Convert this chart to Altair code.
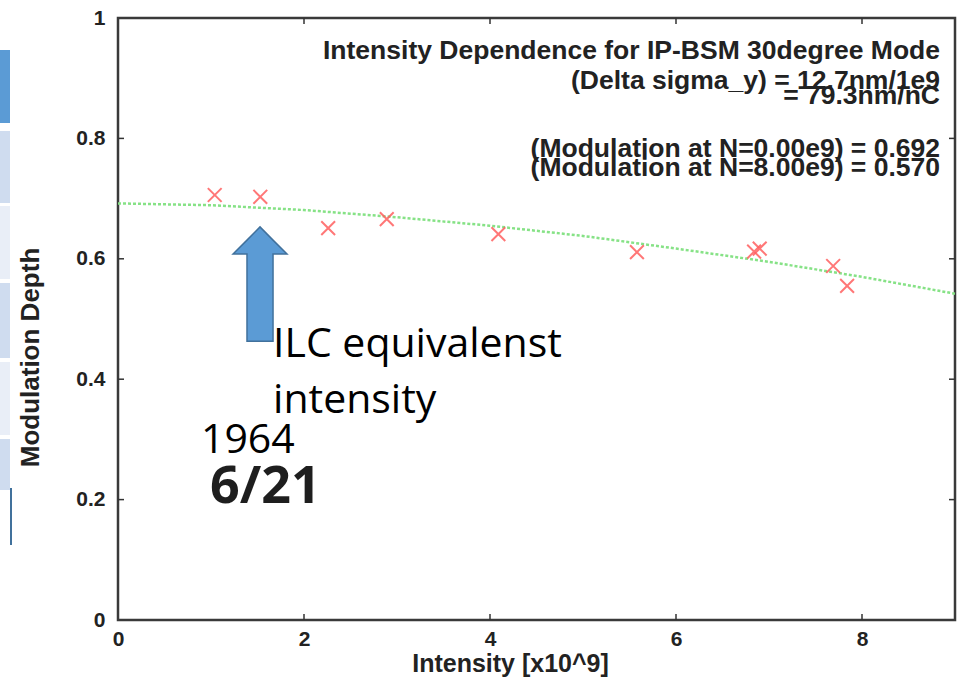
import altair as alt
import pandas as pd

# measured points (intensity x1e9, modulation depth)
pt_x = [1.04, 1.53, 2.26, 2.89, 4.09, 5.58, 6.84, 6.90, 7.69, 7.84]
pt_y = [0.706, 0.703, 0.651, 0.666, 0.641, 0.611, 0.612, 0.617, 0.588, 0.555]

# fitted curve
fit_x = [0, 1, 2, 3, 4, 5, 6, 7, 8, 9]
fit_y = [0.692, 0.689, 0.681, 0.669, 0.655, 0.638, 0.617, 0.595, 0.570, 0.542]

x_ticks = [2, 4, 6, 8]
y_ticks = [0.2, 0.4, 0.6, 0.8]

info_lines = [
    "Intensity Dependence for IP-BSM 30degree Mode",
    "(Delta sigma_y) = 12.7nm/1e9",
    "= 79.3nm/nC",
    "(Modulation at N=0.00e9) = 0.692",
    "(Modulation at N=8.00e9) = 0.570",
]

# arrow outline (data coordinates)
arrow_x = [1.237, 1.387, 1.387, 1.527, 1.667, 1.667, 1.817]
arrow_top = [0.608, 0.631, 0.631, 0.653, 0.631, 0.631, 0.608]
arrow_bot = [0.608, 0.608, 0.463, 0.463, 0.463, 0.608, 0.608]

W, H = 837, 602
HELV = "Liberation Sans"
CAL = "Open Sans"

xs = alt.Scale(domain=[0, 9], nice=False, zero=False)
ys = alt.Scale(domain=[0, 1], nice=False, zero=False)

pts = pd.DataFrame({"x": pt_x, "y": pt_y})
fit = pd.DataFrame({"x": fit_x, "y": fit_y})

fit_line = alt.Chart(fit).mark_line(
    color="#86e286", strokeWidth=2.5, strokeDash=[3, 2]
).encode(
    x=alt.X("x:Q", scale=xs, axis=alt.Axis(
        title="Intensity [x10^9]", values=[0, 2, 4, 6, 8], format="~g",
        ticks=False, domain=False, grid=False, labelPadding=8, labelFlush=False,
        labelFont=HELV, labelFontSize=21, labelFontWeight="bold", labelColor="#222",
        titleFont=HELV, titleFontSize=25, titleFontWeight="bold", titleColor="#222",
        titleX=392, titleY=43, titleAlign="center", titleBaseline="middle")),
    y=alt.Y("y:Q", scale=ys, axis=alt.Axis(
        title="Modulation Depth", values=[0, 0.2, 0.4, 0.6, 0.8, 1], format="~g",
        ticks=False, domain=False, grid=False, labelPadding=13, labelFlush=False,
        labelFont=HELV, labelFontSize=21, labelFontWeight="bold", labelColor="#222",
        titleFont=HELV, titleFontSize=26, titleFontWeight="bold", titleColor="#222",
        titleX=-88, titleY=339, titleAlign="center", titleBaseline="middle")),
)

markers = alt.Chart(pts).mark_point(
    shape="M-1,-1L1,1M1,-1L-1,1", filled=False, stroke="#ff6060",
    strokeWidth=2, size=190, opacity=0.85
).encode(x=alt.X("x:Q", scale=xs), y=alt.Y("y:Q", scale=ys))

tick_df_x = pd.DataFrame({"v": x_ticks})
tick_df_y = pd.DataFrame({"v": y_ticks})
tb = alt.Chart(tick_df_x).mark_rule(color="#333", strokeWidth=1.5).encode(
    x=alt.X("v:Q", scale=xs), y=alt.value(H), y2=alt.value(H - 6))
tt = alt.Chart(tick_df_x).mark_rule(color="#333", strokeWidth=1.5).encode(
    x=alt.X("v:Q", scale=xs), y=alt.value(0), y2=alt.value(6))
tl = alt.Chart(tick_df_y).mark_rule(color="#333", strokeWidth=1.5).encode(
    y=alt.Y("v:Q", scale=ys), x=alt.value(0), x2=alt.value(6))
tr = alt.Chart(tick_df_y).mark_rule(color="#333", strokeWidth=1.5).encode(
    y=alt.Y("v:Q", scale=ys), x=alt.value(W), x2=alt.value(W - 6))

arrow_df = pd.DataFrame({"x": arrow_x, "top": arrow_top, "bot": arrow_bot})
arrow = alt.Chart(arrow_df).mark_area(
    fill="#5b9bd5", stroke="#41719c", strokeWidth=1.5, interpolate="linear",
    orient="vertical", opacity=1, fillOpacity=1
).encode(
    x=alt.X("x:Q", scale=xs), y=alt.Y("top:Q", scale=ys), y2="bot:Q")

ann_df = pd.DataFrame({
    "x": [1.667, 1.667, 0.892],
    "y": [0.437, 0.344, 0.277],
    "t": ["ILC equivalenst", "intensity", "1964"],
})
ann = alt.Chart(ann_df).mark_text(
    font=CAL, fontSize=41, align="left", baseline="alphabetic", color="#000"
).encode(x=alt.X("x:Q", scale=xs), y=alt.Y("y:Q", scale=ys), text="t:N")

date_df = pd.DataFrame({"x": [0.99], "y": [0.194], "t": ["6/21"]})
date = alt.Chart(date_df).mark_text(
    font=CAL, fontSize=52, fontWeight="bold", align="left",
    baseline="alphabetic", color="#1e1e1e"
).encode(x=alt.X("x:Q", scale=xs), y=alt.Y("y:Q", scale=ys), text="t:N")

info_df = pd.DataFrame({"t": info_lines, "py": [41, 71, 86, 139, 158]})
info = alt.Chart(info_df).mark_text(
    font=HELV, fontSize=26.5, fontWeight="bold", align="right",
    baseline="alphabetic", color="#222"
).encode(x=alt.value(822), y=alt.Y("py:Q", scale=None), text="t:N")

# fragment of a table at the left edge (page decoration)
one = alt.Data(values=[{"a": 1}])
strip_rows = [(50, 123, "#5b9bd5"), (131, 203, "#cfdcef"), (206, 279, "#e9eef7"),
              (283, 358, "#cfdcef"), (362, 435, "#e9eef7"), (439, 490, "#cfdcef")]
strip_layers = []
for top, bot, col in strip_rows:
    strip_layers.append(alt.Chart(one).mark_rect(color=col).encode(
        x=alt.value(-118), x2=alt.value(-108),
        y=alt.value(top - 18), y2=alt.value(bot - 18)))
strip_layers.append(alt.Chart(one).mark_rule(color="#41719c", strokeWidth=2).encode(
    x=alt.value(-107), y=alt.value(488 - 18), y2=alt.value(545 - 18)))

chart = alt.layer(
    *strip_layers, fit_line, markers, tb, tt, tl, tr, arrow, ann, date, info
).properties(
    width=W, height=H,
    autosize=alt.AutoSizeParams(type="none"),
    padding={"left": 118, "top": 18, "right": 6, "bottom": 60},
    background="white",
).configure_view(stroke="#3a3a3a", strokeWidth=2.5)

chart.save("out.html", embed_options={"renderer": "svg", "actions": False})
